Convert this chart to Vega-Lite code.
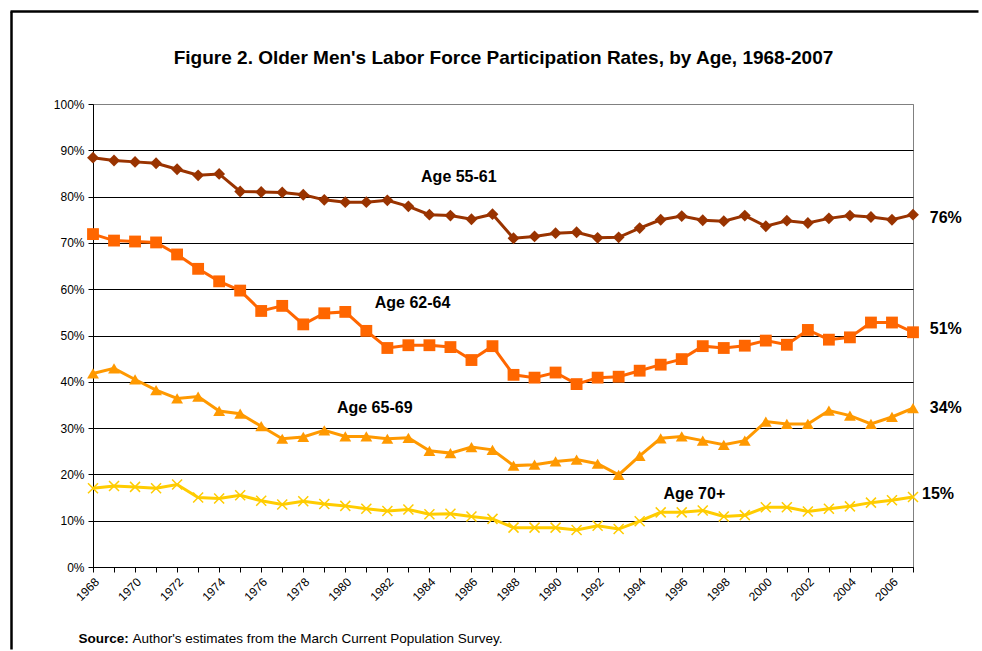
{
  "$schema": "https://vega.github.io/schema/vega-lite/v6.json",
  "autosize": {"type": "none"},
  "width": 820,
  "height": 463,
  "padding": {"left": 93, "top": 104, "right": 69, "bottom": 84},
  "background": "white",
  "config": {
    "font": "Liberation Sans",
    "view": {"stroke": "#808080", "strokeWidth": 1},
    "axis": {"labelFont": "Liberation Sans", "titleFont": "Liberation Sans", "labelColor": "black", "titleColor": "black"}
  },
  "datasets": {
    "rates": [
      {"year":1968,"series":"Age 55-61","value":88.4},{"year":1969,"series":"Age 55-61","value":87.8},{"year":1970,"series":"Age 55-61","value":87.5},{"year":1971,"series":"Age 55-61","value":87.2},{"year":1972,"series":"Age 55-61","value":85.9},{"year":1973,"series":"Age 55-61","value":84.6},{"year":1974,"series":"Age 55-61","value":84.9},{"year":1975,"series":"Age 55-61","value":81.1},{"year":1976,"series":"Age 55-61","value":81.0},{"year":1977,"series":"Age 55-61","value":80.9},{"year":1978,"series":"Age 55-61","value":80.4},{"year":1979,"series":"Age 55-61","value":79.3},{"year":1980,"series":"Age 55-61","value":78.8},{"year":1981,"series":"Age 55-61","value":78.8},{"year":1982,"series":"Age 55-61","value":79.2},{"year":1983,"series":"Age 55-61","value":77.9},{"year":1984,"series":"Age 55-61","value":76.1},{"year":1985,"series":"Age 55-61","value":75.9},{"year":1986,"series":"Age 55-61","value":75.1},{"year":1987,"series":"Age 55-61","value":76.2},{"year":1988,"series":"Age 55-61","value":71.0},{"year":1989,"series":"Age 55-61","value":71.4},{"year":1990,"series":"Age 55-61","value":72.1},{"year":1991,"series":"Age 55-61","value":72.3},{"year":1992,"series":"Age 55-61","value":71.1},{"year":1993,"series":"Age 55-61","value":71.2},{"year":1994,"series":"Age 55-61","value":73.2},{"year":1995,"series":"Age 55-61","value":75.0},{"year":1996,"series":"Age 55-61","value":75.8},{"year":1997,"series":"Age 55-61","value":74.9},{"year":1998,"series":"Age 55-61","value":74.7},{"year":1999,"series":"Age 55-61","value":75.9},{"year":2000,"series":"Age 55-61","value":73.6},{"year":2001,"series":"Age 55-61","value":74.8},{"year":2002,"series":"Age 55-61","value":74.3},{"year":2003,"series":"Age 55-61","value":75.3},{"year":2004,"series":"Age 55-61","value":75.9},{"year":2005,"series":"Age 55-61","value":75.6},{"year":2006,"series":"Age 55-61","value":75.0},{"year":2007,"series":"Age 55-61","value":76.1},
      {"year":1968,"series":"Age 62-64","value":71.9},{"year":1969,"series":"Age 62-64","value":70.5},{"year":1970,"series":"Age 62-64","value":70.3},{"year":1971,"series":"Age 62-64","value":70.1},{"year":1972,"series":"Age 62-64","value":67.5},{"year":1973,"series":"Age 62-64","value":64.4},{"year":1974,"series":"Age 62-64","value":61.7},{"year":1975,"series":"Age 62-64","value":59.7},{"year":1976,"series":"Age 62-64","value":55.3},{"year":1977,"series":"Age 62-64","value":56.4},{"year":1978,"series":"Age 62-64","value":52.4},{"year":1979,"series":"Age 62-64","value":54.8},{"year":1980,"series":"Age 62-64","value":55.1},{"year":1981,"series":"Age 62-64","value":51.0},{"year":1982,"series":"Age 62-64","value":47.3},{"year":1983,"series":"Age 62-64","value":47.9},{"year":1984,"series":"Age 62-64","value":47.9},{"year":1985,"series":"Age 62-64","value":47.5},{"year":1986,"series":"Age 62-64","value":44.7},{"year":1987,"series":"Age 62-64","value":47.7},{"year":1988,"series":"Age 62-64","value":41.5},{"year":1989,"series":"Age 62-64","value":40.9},{"year":1990,"series":"Age 62-64","value":42.0},{"year":1991,"series":"Age 62-64","value":39.5},{"year":1992,"series":"Age 62-64","value":40.9},{"year":1993,"series":"Age 62-64","value":41.1},{"year":1994,"series":"Age 62-64","value":42.4},{"year":1995,"series":"Age 62-64","value":43.7},{"year":1996,"series":"Age 62-64","value":44.9},{"year":1997,"series":"Age 62-64","value":47.7},{"year":1998,"series":"Age 62-64","value":47.3},{"year":1999,"series":"Age 62-64","value":47.8},{"year":2000,"series":"Age 62-64","value":48.9},{"year":2001,"series":"Age 62-64","value":48.0},{"year":2002,"series":"Age 62-64","value":51.2},{"year":2003,"series":"Age 62-64","value":49.1},{"year":2004,"series":"Age 62-64","value":49.6},{"year":2005,"series":"Age 62-64","value":52.8},{"year":2006,"series":"Age 62-64","value":52.8},{"year":2007,"series":"Age 62-64","value":50.7},
      {"year":1968,"series":"Age 65-69","value":41.8},{"year":1969,"series":"Age 65-69","value":42.9},{"year":1970,"series":"Age 65-69","value":40.5},{"year":1971,"series":"Age 65-69","value":38.2},{"year":1972,"series":"Age 65-69","value":36.4},{"year":1973,"series":"Age 65-69","value":36.8},{"year":1974,"series":"Age 65-69","value":33.7},{"year":1975,"series":"Age 65-69","value":33.1},{"year":1976,"series":"Age 65-69","value":30.4},{"year":1977,"series":"Age 65-69","value":27.7},{"year":1978,"series":"Age 65-69","value":28.1},{"year":1979,"series":"Age 65-69","value":29.5},{"year":1980,"series":"Age 65-69","value":28.2},{"year":1981,"series":"Age 65-69","value":28.2},{"year":1982,"series":"Age 65-69","value":27.7},{"year":1983,"series":"Age 65-69","value":27.9},{"year":1984,"series":"Age 65-69","value":25.1},{"year":1985,"series":"Age 65-69","value":24.6},{"year":1986,"series":"Age 65-69","value":25.9},{"year":1987,"series":"Age 65-69","value":25.3},{"year":1988,"series":"Age 65-69","value":21.9},{"year":1989,"series":"Age 65-69","value":22.1},{"year":1990,"series":"Age 65-69","value":22.8},{"year":1991,"series":"Age 65-69","value":23.2},{"year":1992,"series":"Age 65-69","value":22.3},{"year":1993,"series":"Age 65-69","value":19.9},{"year":1994,"series":"Age 65-69","value":24.0},{"year":1995,"series":"Age 65-69","value":27.8},{"year":1996,"series":"Age 65-69","value":28.2},{"year":1997,"series":"Age 65-69","value":27.3},{"year":1998,"series":"Age 65-69","value":26.4},{"year":1999,"series":"Age 65-69","value":27.3},{"year":2000,"series":"Age 65-69","value":31.4},{"year":2001,"series":"Age 65-69","value":30.9},{"year":2002,"series":"Age 65-69","value":30.9},{"year":2003,"series":"Age 65-69","value":33.8},{"year":2004,"series":"Age 65-69","value":32.7},{"year":2005,"series":"Age 65-69","value":30.9},{"year":2006,"series":"Age 65-69","value":32.4},{"year":2007,"series":"Age 65-69","value":34.3},
      {"year":1968,"series":"Age 70+","value":17.0},{"year":1969,"series":"Age 70+","value":17.5},{"year":1970,"series":"Age 70+","value":17.3},{"year":1971,"series":"Age 70+","value":17.0},{"year":1972,"series":"Age 70+","value":17.8},{"year":1973,"series":"Age 70+","value":15.0},{"year":1974,"series":"Age 70+","value":14.8},{"year":1975,"series":"Age 70+","value":15.5},{"year":1976,"series":"Age 70+","value":14.3},{"year":1977,"series":"Age 70+","value":13.5},{"year":1978,"series":"Age 70+","value":14.2},{"year":1979,"series":"Age 70+","value":13.6},{"year":1980,"series":"Age 70+","value":13.2},{"year":1981,"series":"Age 70+","value":12.6},{"year":1982,"series":"Age 70+","value":12.1},{"year":1983,"series":"Age 70+","value":12.4},{"year":1984,"series":"Age 70+","value":11.4},{"year":1985,"series":"Age 70+","value":11.5},{"year":1986,"series":"Age 70+","value":10.9},{"year":1987,"series":"Age 70+","value":10.4},{"year":1988,"series":"Age 70+","value":8.5},{"year":1989,"series":"Age 70+","value":8.5},{"year":1990,"series":"Age 70+","value":8.5},{"year":1991,"series":"Age 70+","value":8.0},{"year":1992,"series":"Age 70+","value":8.9},{"year":1993,"series":"Age 70+","value":8.2},{"year":1994,"series":"Age 70+","value":9.9},{"year":1995,"series":"Age 70+","value":11.8},{"year":1996,"series":"Age 70+","value":11.8},{"year":1997,"series":"Age 70+","value":12.2},{"year":1998,"series":"Age 70+","value":10.9},{"year":1999,"series":"Age 70+","value":11.2},{"year":2000,"series":"Age 70+","value":12.9},{"year":2001,"series":"Age 70+","value":12.9},{"year":2002,"series":"Age 70+","value":12.0},{"year":2003,"series":"Age 70+","value":12.6},{"year":2004,"series":"Age 70+","value":13.1},{"year":2005,"series":"Age 70+","value":13.9},{"year":2006,"series":"Age 70+","value":14.4},{"year":2007,"series":"Age 70+","value":15.1}
    ],
    "serieslabels": [
      {"year": 1985.4, "value": 84.2, "label": "Age 55-61"},
      {"year": 1983.2, "value": 57.0, "label": "Age 62-64"},
      {"year": 1981.4, "value": 34.3, "label": "Age 65-69"},
      {"year": 1996.6, "value": 15.8, "label": "Age 70+"}
    ],
    "endlabels": [
      {"year": 2007.8, "value": 75.4, "label": "76%"},
      {"year": 2007.8, "value": 51.4, "label": "51%"},
      {"year": 2007.8, "value": 34.3, "label": "34%"},
      {"year": 2007.43, "value": 15.8, "label": "15%"}
    ]
  },
  "resolve": {"axis": {"x": "independent", "y": "independent"}},
  "layer": [
    {
      "data": {"name": "rates"},
      "mark": {"type": "line", "strokeWidth": 3},
      "encoding": {
        "x": {"field": "year", "type": "quantitative",
          "scale": {"domain": [1968, 2007], "nice": false, "zero": false},
          "axis": {"values": [1968,1969,1970,1971,1972,1973,1974,1975,1976,1977,1978,1979,1980,1981,1982,1983,1984,1985,1986,1987,1988,1989,1990,1991,1992,1993,1994,1995,1996,1997,1998,1999,2000,2001,2002,2003,2004,2005,2006,2007],
            "labelExpr": "datum.value % 2 == 0 ? '' + datum.value : ''",
            "labelAngle": -45, "labelFontSize": 12, "labelPadding": 4, "labelOverlap": false, "labelFlush": false,
            "tickSize": 5, "tickColor": "black", "domainColor": "black", "domainWidth": 1, "grid": false,
            "title": "Source:", "titleFontSize": 13.5, "titleFontWeight": "bold", "titleAnchor": "start", "titleAlign": "left", "titleBaseline": "middle", "titleX": -15, "titleY": 71}},
        "y": {"field": "value", "type": "quantitative",
          "scale": {"domain": [0, 100], "nice": false},
          "axis": {"values": [0,10,20,30,40,50,60,70,80,90,100], "labelExpr": "datum.value + '%'", "labelFontSize": 12, "labelPadding": 4,
            "tickSize": 5, "tickColor": "black", "domainColor": "black", "grid": true,
            "gridColor": {"condition": {"test": "datum.value == 100", "value": "#808080"}, "value": "#000000"}, "gridOpacity": 1, "gridWidth": 1, "title": null}},
        "color": {"field": "series", "type": "nominal",
          "scale": {"domain": ["Age 55-61", "Age 62-64", "Age 65-69", "Age 70+"], "range": ["#993300", "#FF6600", "#FF9900", "#FFCC00"]},
          "legend": null}
      }
    },
    {
      "data": {"name": "rates"},
      "transform": [{"filter": "datum.series != 'Age 70+'"}],
      "mark": {"type": "point", "filled": true, "opacity": 1, "size": 140},
      "encoding": {
        "x": {"field": "year", "type": "quantitative",
          "axis": {"orient": "bottom", "offset": 82, "values": [1968], "tickOffset": -82, "tickSize": -638, "tickWidth": 2.5, "tickColor": "black", "tickRound": false,
            "labels": false, "domain": false, "grid": false, "title": null}},
        "y": {"field": "value", "type": "quantitative", "axis": null},
        "color": {"field": "series", "type": "nominal", "legend": null},
        "shape": {"field": "series", "type": "nominal",
          "scale": {"domain": ["Age 55-61", "Age 62-64", "Age 65-69"], "range": ["diamond", "square", "triangle-up"]}, "legend": null}
      }
    },
    {
      "data": {"name": "rates"},
      "transform": [{"filter": "datum.series == 'Age 70+'"}],
      "mark": {"type": "point", "filled": false, "opacity": 1, "size": 100, "strokeWidth": 1.5, "shape": "M-1,-1L1,1M-1,1L1,-1"},
      "encoding": {
        "x": {"field": "year", "type": "quantitative", "axis": null},
        "y": {"field": "value", "type": "quantitative",
          "axis": {"orient": "left", "offset": 83, "values": [100], "tickOffset": -93, "tickSize": -968, "tickWidth": 2.5, "tickColor": "black", "tickRound": false,
            "labels": false, "domain": false, "grid": false, "title": null}},
        "color": {"field": "series", "type": "nominal", "legend": null}
      }
    },
    {
      "data": {"name": "serieslabels"},
      "mark": {"type": "text", "font": "Liberation Sans", "fontSize": 16, "fontWeight": "bold", "align": "center", "baseline": "middle", "color": "black"},
      "encoding": {
        "x": {"field": "year", "type": "quantitative",
          "axis": {"orient": "bottom", "labels": false, "ticks": false, "domain": false, "grid": false,
            "title": "Author's estimates from the March Current Population Survey.", "titleFontSize": 13.5, "titleFontWeight": "normal", "titleAnchor": "start", "titleAlign": "left", "titleBaseline": "middle", "titleX": 39, "titleY": 71}},
        "y": {"field": "value", "type": "quantitative", "axis": null},
        "text": {"field": "label", "type": "nominal"}
      }
    },
    {
      "data": {"name": "endlabels"},
      "mark": {"type": "text", "font": "Liberation Sans", "fontSize": 16, "fontWeight": "bold", "align": "left", "baseline": "middle", "color": "black", "clip": false},
      "encoding": {
        "x": {"field": "year", "type": "quantitative",
          "axis": {"orient": "top", "labels": false, "ticks": false, "domain": false, "grid": false,
            "title": "Figure 2. Older Men's Labor Force Participation Rates, by Age, 1968-2007", "titleFontSize": 19, "titleFontWeight": "bold", "titleAnchor": "middle", "titleAlign": "center", "titleBaseline": "middle", "titleX": 410, "titleY": -47}},
        "y": {"field": "value", "type": "quantitative", "axis": null},
        "text": {"field": "label", "type": "nominal"}
      }
    }
  ]
}
